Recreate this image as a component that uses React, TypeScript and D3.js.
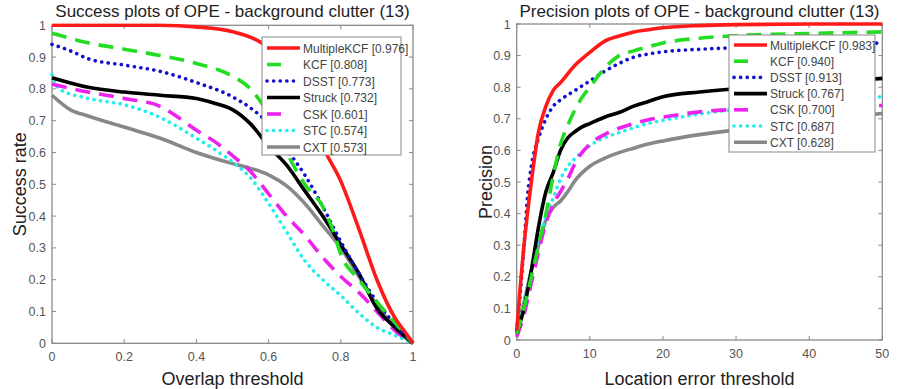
import * as d3 from "d3";
import { useMemo } from "react";

type Pt = [number, number];

// success plot (overlap threshold vs success rate)
const successNames = ["MultipleKCF [0.976]", "KCF [0.808]", "DSST [0.773]", "Struck [0.732]", "CSK [0.601]", "STC [0.574]", "CXT [0.573]"];
const successMultipleKCF: Pt[] = [[0, 1], [0.3, 1], [0.4, 0.995], [0.5, 0.98], [0.58, 0.945], [0.65, 0.87], [0.7, 0.78], [0.75, 0.62], [0.8, 0.51], [0.85, 0.36], [0.9, 0.2], [0.95, 0.08], [0.975, 0.04], [1, 0]];
const successKCF: Pt[] = [[0, 0.975], [0.1, 0.945], [0.2, 0.925], [0.3, 0.905], [0.4, 0.88], [0.5, 0.84], [0.55, 0.8], [0.6, 0.72], [0.65, 0.6], [0.7, 0.5], [0.75, 0.43], [0.78, 0.35], [0.8, 0.28], [0.85, 0.2], [0.9, 0.13], [0.95, 0.065], [1, 0]];
const successDSST: Pt[] = [[0, 0.94], [0.05, 0.92], [0.1, 0.895], [0.2, 0.875], [0.3, 0.855], [0.4, 0.82], [0.5, 0.775], [0.55, 0.74], [0.6, 0.69], [0.65, 0.61], [0.7, 0.53], [0.75, 0.43], [0.8, 0.32], [0.85, 0.22], [0.9, 0.13], [0.95, 0.06], [1, 0]];
const successStruck: Pt[] = [[0, 0.835], [0.1, 0.805], [0.2, 0.79], [0.3, 0.78], [0.4, 0.77], [0.45, 0.755], [0.5, 0.735], [0.55, 0.69], [0.6, 0.62], [0.65, 0.56], [0.7, 0.48], [0.75, 0.4], [0.8, 0.31], [0.85, 0.22], [0.9, 0.11], [0.95, 0.05], [1, 0]];
const successCSK: Pt[] = [[0, 0.815], [0.1, 0.79], [0.2, 0.77], [0.3, 0.745], [0.35, 0.71], [0.4, 0.67], [0.45, 0.635], [0.5, 0.59], [0.55, 0.54], [0.6, 0.47], [0.65, 0.4], [0.7, 0.34], [0.75, 0.27], [0.8, 0.21], [0.85, 0.16], [0.9, 0.1], [0.95, 0.04], [1, 0]];
const successSTC: Pt[] = [[0, 0.845], [0.02, 0.8], [0.1, 0.77], [0.2, 0.75], [0.3, 0.71], [0.4, 0.645], [0.45, 0.61], [0.5, 0.57], [0.55, 0.52], [0.6, 0.44], [0.65, 0.35], [0.7, 0.26], [0.75, 0.2], [0.8, 0.15], [0.85, 0.095], [0.9, 0.05], [0.95, 0.025], [1, 0]];
const successCXT: Pt[] = [[0, 0.78], [0.05, 0.735], [0.1, 0.715], [0.2, 0.68], [0.3, 0.645], [0.4, 0.6], [0.5, 0.565], [0.55, 0.55], [0.6, 0.53], [0.65, 0.495], [0.7, 0.44], [0.75, 0.37], [0.8, 0.3], [0.85, 0.21], [0.9, 0.12], [0.95, 0.05], [1, 0]];

// precision plot (location error threshold vs precision)
const precisionNames = ["MultipleKCF [0.983]", "KCF [0.940]", "DSST [0.913]", "Struck [0.767]", "CSK [0.700]", "STC [0.687]", "CXT [0.628]"];
const precisionMultipleKCF: Pt[] = [[0, 0.03], [1, 0.3], [2, 0.5], [3, 0.66], [4, 0.74], [5, 0.79], [6, 0.815], [8, 0.87], [10, 0.91], [12, 0.945], [14, 0.962], [16, 0.975], [18, 0.982], [20, 0.988], [25, 0.995], [30, 0.998], [40, 1], [50, 1]];
const precisionKCF: Pt[] = [[0, 0.02], [1, 0.1], [2, 0.2], [3, 0.3], [4, 0.4], [5, 0.52], [6, 0.62], [7, 0.68], [8, 0.73], [9, 0.77], [10, 0.8], [12, 0.86], [14, 0.9], [16, 0.915], [18, 0.928], [20, 0.94], [25, 0.955], [30, 0.963], [40, 0.97], [50, 0.975]];
const precisionDSST: Pt[] = [[0, 0.03], [0.5, 0.15], [1, 0.3], [1.5, 0.46], [2, 0.55], [3, 0.64], [4, 0.7], [5, 0.74], [6, 0.76], [8, 0.79], [10, 0.82], [12, 0.85], [14, 0.875], [16, 0.895], [18, 0.905], [20, 0.912], [25, 0.92], [30, 0.925], [40, 0.932], [50, 0.94]];
const precisionStruck: Pt[] = [[0, 0.02], [1, 0.1], [2, 0.22], [3, 0.36], [4, 0.47], [5, 0.53], [6, 0.6], [7, 0.64], [8, 0.66], [9, 0.675], [10, 0.685], [12, 0.705], [14, 0.72], [16, 0.74], [18, 0.755], [20, 0.77], [25, 0.785], [30, 0.795], [35, 0.8], [40, 0.81], [50, 0.828]];
const precisionCSK: Pt[] = [[0, 0.01], [1, 0.08], [2, 0.18], [3, 0.28], [4, 0.37], [5, 0.43], [6, 0.47], [7, 0.51], [8, 0.56], [10, 0.62], [12, 0.65], [14, 0.67], [16, 0.685], [18, 0.697], [20, 0.705], [25, 0.722], [30, 0.73], [40, 0.738], [50, 0.742]];
const precisionSTC: Pt[] = [[0, 0.02], [1, 0.12], [2, 0.22], [3, 0.32], [4, 0.39], [5, 0.45], [6, 0.51], [7, 0.55], [8, 0.575], [10, 0.615], [12, 0.64], [14, 0.656], [16, 0.672], [18, 0.685], [20, 0.695], [25, 0.715], [30, 0.73], [40, 0.75], [50, 0.77]];
const precisionCXT: Pt[] = [[0, 0.03], [1, 0.12], [2, 0.22], [3, 0.3], [4, 0.38], [5, 0.42], [6, 0.44], [7, 0.47], [8, 0.505], [10, 0.55], [12, 0.575], [14, 0.593], [16, 0.607], [18, 0.62], [20, 0.63], [25, 0.65], [30, 0.665], [40, 0.69], [50, 0.717]];

const yTicks = [0, 0.1, 0.2, 0.3, 0.4, 0.5, 0.6, 0.7, 0.8, 0.9, 1];
const successXTicks = [0, 0.2, 0.4, 0.6, 0.8, 1];
const precisionXTicks = [0, 10, 20, 30, 40, 50];

// line styles, same order as the names
const styles = [
  { color: "#ff1a1a", dash: "none", cap: "butt" },
  { color: "#22dd22", dash: "15 9", cap: "butt" },
  { color: "#1010cc", dash: "0.1 6.5", cap: "round" },
  { color: "#000000", dash: "none", cap: "butt" },
  { color: "#ee22ee", dash: "15 9", cap: "butt" },
  { color: "#22eeee", dash: "0.1 6.5", cap: "round" },
  { color: "#888888", dash: "none", cap: "butt" },
];

const FONT = "'Liberation Sans', Arial, sans-serif";

type PanelProps = {
  id: string;
  left: number;
  right: number;
  top: number;
  bottom: number;
  xMax: number;
  xTicks: number[];
  series: Pt[][];
  names: string[];
  title: string;
  xLabel: string;
  yLabel: string;
  yLabelX: number;
  legend: { x: number; y: number; w: number; h: number; row0: number; step: number };
};

function Panel(p: PanelProps) {
  const x = d3.scaleLinear().domain([0, p.xMax]).range([p.left, p.right]);
  const y = d3.scaleLinear().domain([0, 1]).range([p.bottom, p.top]);
  const line = d3
    .line<Pt>()
    .x((d) => x(d[0]))
    .y((d) => y(d[1]))
    .curve(d3.curveMonotoneX);

  const axisColor = "#8a8a8a";
  const tickColor = "#555";
  const cx = (p.left + p.right) / 2;
  const lg = p.legend;

  return (
    <g>
      <defs>
        <clipPath id={p.id}>
          <rect x={p.left - 2} y={p.top - 2} width={p.right - p.left + 4} height={p.bottom - p.top + 4} />
        </clipPath>
      </defs>
      <rect x={p.left} y={p.top} width={p.right - p.left} height={p.bottom - p.top} fill="none" stroke={axisColor} strokeWidth={1.3} />
      {yTicks.map((t) => (
        <g key={"y" + t}>
          <line x1={p.left} x2={p.left + 4} y1={y(t)} y2={y(t)} stroke={axisColor} />
          <line x1={p.right} x2={p.right - 4} y1={y(t)} y2={y(t)} stroke={axisColor} />
          <text x={p.left - 6} y={y(t) + 4.5} textAnchor="end" fontSize={12.5} fill={tickColor} fontFamily={FONT}>
            {t}
          </text>
        </g>
      ))}
      {p.xTicks.map((t) => (
        <g key={"x" + t}>
          <line x1={x(t)} x2={x(t)} y1={p.bottom} y2={p.bottom - 4} stroke={axisColor} />
          <line x1={x(t)} x2={x(t)} y1={p.top} y2={p.top + 4} stroke={axisColor} />
          <text x={x(t)} y={p.bottom + 18} textAnchor="middle" fontSize={12.5} fill={tickColor} fontFamily={FONT}>
            {t}
          </text>
        </g>
      ))}
      <g clipPath={`url(#${p.id})`}>
        {p.series
          .map((s, i) => ({ s, i }))
          .reverse()
          .map(({ s, i }) => (
            <path
              key={i}
              d={line(s) || ""}
              fill="none"
              stroke={styles[i].color}
              strokeWidth={3.6}
              strokeDasharray={styles[i].dash}
              strokeLinecap={styles[i].cap as any}
              strokeLinejoin="round"
            />
          ))}
      </g>
      <text x={cx} y={17} textAnchor="middle" fontSize={17} fill="#222" fontFamily={FONT}>
        {p.title}
      </text>
      <text x={cx} y={385} textAnchor="middle" fontSize={18} fill="#222" fontFamily={FONT}>
        {p.xLabel}
      </text>
      <text
        transform={`translate(${p.yLabelX},${(p.top + p.bottom) / 2}) rotate(-90)`}
        textAnchor="middle"
        fontSize={18}
        fill="#222"
        fontFamily={FONT}
      >
        {p.yLabel}
      </text>
      <rect x={lg.x} y={lg.y} width={lg.w} height={lg.h} fill="#fff" stroke="#888" strokeWidth={1} />
      {p.names.map((n, i) => {
        const ry = lg.y + lg.row0 + i * lg.step;
        return (
          <g key={n}>
            <line
              x1={lg.x + 5}
              x2={lg.x + 38}
              y1={ry}
              y2={ry}
              stroke={styles[i].color}
              strokeWidth={3.6}
              strokeDasharray={styles[i].dash === "15 9" ? "none" : styles[i].dash}
              strokeLinecap={styles[i].cap as any}
              style={styles[i].dash === "15 9" ? { strokeDasharray: "14 40" } : undefined}
            />
            <text x={lg.x + 41} y={ry + 4.5} fontSize={12} fill="#444" fontFamily={FONT}>
              {n}
            </text>
          </g>
        );
      })}
    </g>
  );
}

export default function App() {
  const success = useMemo(
    () => [successMultipleKCF, successKCF, successDSST, successStruck, successCSK, successSTC, successCXT],
    []
  );
  const precision = useMemo(
    () => [precisionMultipleKCF, precisionKCF, precisionDSST, precisionStruck, precisionCSK, precisionSTC, precisionCXT],
    []
  );

  return (
    <div style={{ position: "absolute", left: 0, top: 0, width: 898, height: 389, background: "#fff" }}>
      <svg width={898} height={389} viewBox="0 0 898 389">
        <rect width={898} height={389} fill="#fff" />
        <Panel
          id="clipSuccess"
          left={52}
          right={413}
          top={25.3}
          bottom={343.3}
          xMax={1}
          xTicks={successXTicks}
          series={success}
          names={successNames}
          title="Success plots of OPE - background clutter (13)"
          xLabel="Overlap threshold"
          yLabel="Success rate"
          yLabelX={26}
          legend={{ x: 262, y: 37, w: 139, h: 118, row0: 11, step: 16.5 }}
        />
        <Panel
          id="clipPrecision"
          left={516.7}
          right={882.3}
          top={24}
          bottom={340}
          xMax={50}
          xTicks={precisionXTicks}
          series={precision}
          names={precisionNames}
          title="Precision plots of OPE - background clutter (13)"
          xLabel="Location error threshold"
          yLabel="Precision"
          yLabelX={492}
          legend={{ x: 729, y: 35, w: 146, h: 117, row0: 10, step: 16.2 }}
        />
      </svg>
    </div>
  );
}
